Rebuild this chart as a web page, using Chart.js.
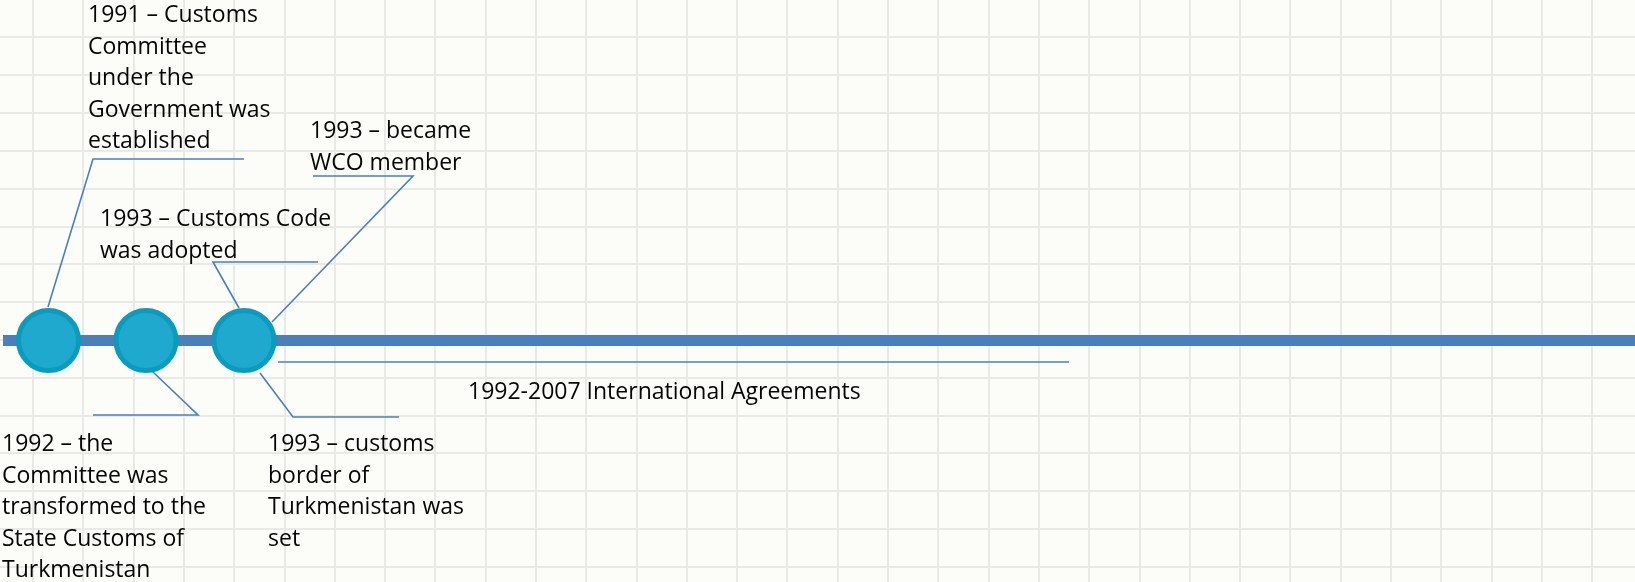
<!DOCTYPE html>
<html>
<head>
<meta charset="utf-8">
<script src="https://cdn.jsdelivr.net/npm/chart.js@4/dist/chart.umd.min.js"></script>
<style>
  html, body { margin: 0; padding: 0; background: #fcfdf8; }
  #wrap { width: 1635px; height: 582px; position: relative; }
</style>
</head>
<body>
<div id="wrap"><canvas id="chart"></canvas></div>
<script>
// timeline events (x along the line, y of the line)
const eventNames = ["1991", "1992", "1993"];
const eventX = [48.5, 146, 244];
const lineY = 340.5;
const lineSpan = [3, 1635];

// leader lines from each event to its caption
const leader1991 = [{x: 48, y: 307}, {x: 93, y: 159}, {x: 244, y: 159}];
const leader1992 = [{x: 153, y: 372}, {x: 198, y: 415}, {x: 93, y: 415}];
const leaderCode = [{x: 239, y: 308}, {x: 213, y: 262}, {x: 318, y: 262}];
const leaderWCO = [{x: 272, y: 322}, {x: 413, y: 176}, {x: 313, y: 176}];
const leaderBorder = [{x: 260, y: 373}, {x: 293, y: 417}, {x: 399, y: 417}];
const leaderAgreements = [{x: 278, y: 362}, {x: 1069, y: 362}];

// captions: left x, first baseline, lines
const captions = [
  {x: 88, y: 22, lines: ["1991 \u2013 Customs", "Committee", "under the", "Government was", "established"]},
  {x: 310, y: 138, lines: ["1993 \u2013 became", "WCO member"]},
  {x: 100, y: 226, lines: ["1993 \u2013 Customs Code", "was adopted"]},
  {x: 468, y: 399, lines: ["1992-2007 International Agreements"]},
  {x: 2, y: 451, lines: ["1992 \u2013 the", "Committee was", "transformed to the", "State Customs of", "Turkmenistan"]},
  {x: 268, y: 451, lines: ["1993 \u2013 customs", "border of", "Turkmenistan was", "set"]}
];

const lineBlue = "#4a7fbc";

function leader(points) {
  return {
    data: points, showLine: true, borderColor: lineBlue, borderWidth: 1.6,
    pointRadius: 0, fill: false, order: 1
  };
}

const captionPlugin = {
  id: "captions",
  afterDatasetsDraw(chart) {
    const ctx = chart.ctx;
    const xs = chart.scales.x, ys = chart.scales.y;
    ctx.save();
    ctx.fillStyle = "#050505";
    ctx.font = '23px "Open Sans"';
    ctx.textBaseline = "alphabetic";
    captions.forEach(c => {
      c.lines.forEach((t, i) => {
        ctx.fillText(t, xs.getPixelForValue(c.x), ys.getPixelForValue(c.y) + i * 31.6);
      });
    });
    ctx.restore();
  }
};

function gridTicks(start, step, max) {
  const out = [];
  for (let v = start; v < max; v += step) out.push({value: v});
  return out;
}

const ctx = document.getElementById("chart").getContext("2d");
new Chart(ctx, {
  type: "scatter",
  data: {
    datasets: [
      {
        label: "events",
        data: eventX.map(x => ({x: x, y: lineY})),
        pointRadius: 30, pointStyle: "circle",
        backgroundColor: "#1fa9cf", borderColor: "#0b9bbc", borderWidth: 5,
        order: 0
      },
      leader(leader1991),
      leader(leader1992),
      leader(leaderCode),
      leader(leaderWCO),
      leader(leaderBorder),
      leader(leaderAgreements),
      {
        label: "timeline",
        data: lineSpan.map(x => ({x: x, y: lineY})),
        showLine: true, borderColor: lineBlue, borderWidth: 11,
        pointRadius: 0, borderCapStyle: "butt", order: 2
      }
    ]
  },
  options: {
    responsive: true,
    maintainAspectRatio: false,
    animation: false,
    events: [],
    layout: { padding: 0, autoPadding: false },
    plugins: { legend: { display: false }, tooltip: { enabled: false } },
    scales: {
      x: {
        type: "linear", min: 0, max: 1635,
        ticks: { display: false },
        border: { display: false },
        grid: { color: "#e9eae5", lineWidth: 2, drawTicks: false },
        afterBuildTicks: s => { s.ticks = gridTicks(33, 50.3, 1635); }
      },
      y: {
        type: "linear", min: 0, max: 582, reverse: true,
        ticks: { display: false },
        border: { display: false },
        grid: { color: "#e9eae5", lineWidth: 2, drawTicks: false },
        afterBuildTicks: s => { s.ticks = gridTicks(37.5, 37.8, 582); }
      }
    }
  },
  plugins: [captionPlugin]
});
</script>
</body>
</html>
